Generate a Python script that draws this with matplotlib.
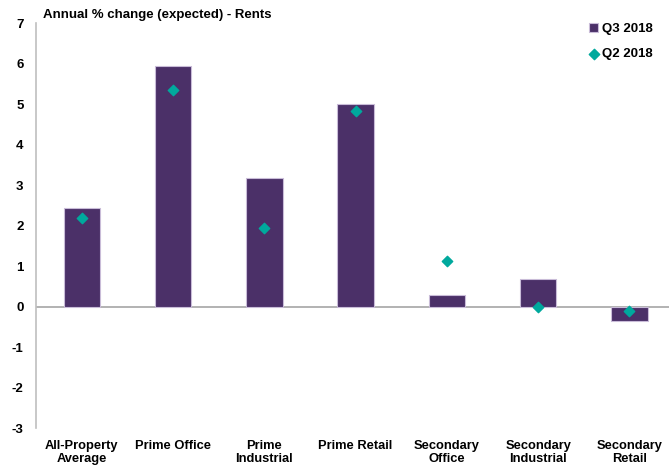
import numpy as np
import matplotlib.pyplot as plt

categories = ['All-Property\nAverage', 'Prime Office', 'Prime\nIndustrial', 'Prime Retail',
              'Secondary\nOffice', 'Secondary\nIndustrial', 'Secondary\nRetail']
q3_2018 = [2.44, 5.93, 3.18, 5.0, 0.29, 0.67, -0.36]
q2_2018 = [2.19, 5.36, 1.93, 4.84, 1.12, -0.02, -0.10]
yticks = [7, 6, 5, 4, 3, 2, 1, 0, -1, -2, -3]

plt.rcParams['font.family'] = ['Liberation Sans', 'DejaVu Sans']
plt.rcParams['font.weight'] = 'bold'

fig = plt.figure(figsize=(6.69, 4.67), dpi=100)
ax = fig.add_axes([0.054, 0.0835, 0.955, 0.867])

x = np.arange(len(categories))
bars = ax.bar(x, q3_2018, width=0.4, color='#4b3068', edgecolor='#c9bcd8', linewidth=0.8,
              label='Q3 2018', zorder=2)
pts = ax.scatter(x, q2_2018, marker='D', s=28, color='#00a99d', label='Q2 2018', zorder=3)
ax.axhline(0, color='#a6a6a6', linewidth=1.2, zorder=1)

ax.set_xlim(-0.5, 6.5)
ax.set_ylim(-3, 7)
ax.set_yticks(yticks)
ax.set_yticklabels([str(t) for t in yticks], fontsize=9.5, fontweight='bold')
ax.set_xticks(x)
ax.set_xticklabels(categories, fontsize=9.3, fontweight='bold', linespacing=1.1)
ax.tick_params(axis='both', length=0)
ax.tick_params(axis='y', pad=9)
ax.tick_params(axis='x', pad=8.5)

for side in ['top', 'right', 'bottom']:
    ax.spines[side].set_visible(False)
ax.spines['left'].set_color('#bfbfbf')
ax.spines['left'].set_linewidth(1.2)

fig.text(0.064, 0.968, 'Annual % change (expected) - Rents', fontsize=9.5,
         fontweight='bold', ha='left', va='center')

leg = fig.legend([bars, pts], ['Q3 2018', 'Q2 2018'], loc='upper right',
                 bbox_to_anchor=(0.99, 0.97), frameon=False,
                 fontsize=9.5, handlelength=0.7, handletextpad=0.3,
                 labelspacing=0.95, borderpad=0.2)
for t in leg.get_texts():
    t.set_fontweight('bold')

plt.savefig('out.png', dpi=100)
